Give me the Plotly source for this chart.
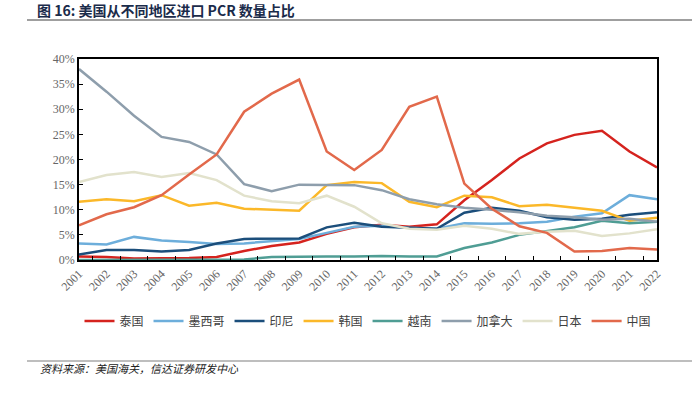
import plotly.graph_objects as go

years = ["2001", "2002", "2003", "2004", "2005", "2006", "2007", "2008", "2009", "2010", "2011",
         "2012", "2013", "2014", "2015", "2016", "2017", "2018", "2019", "2020", "2021", "2022"]

thailand = [0.7, 0.6, 0.3, 0.3, 0.4, 0.6, 1.8, 2.8, 3.5, 5.2, 6.5, 7.0, 6.6, 7.1, 11.9, 15.9, 20.2, 23.2, 24.9, 25.7, 21.6, 18.4]
mexico = [3.3, 3.1, 4.6, 3.9, 3.6, 3.2, 3.3, 3.8, 4.2, 5.4, 6.6, 6.8, 6.4, 6.2, 7.3, 7.2, 7.3, 7.6, 8.6, 9.3, 12.9, 12.1]
indonesia = [1.1, 2.0, 2.0, 1.7, 2.0, 3.3, 4.2, 4.2, 4.3, 6.5, 7.4, 6.6, 6.4, 6.2, 9.4, 10.4, 9.8, 8.5, 8.0, 8.2, 9.0, 9.5]
korea = [11.6, 12.1, 11.7, 12.9, 10.8, 11.4, 10.2, 10.0, 9.8, 14.9, 15.5, 15.3, 11.6, 10.5, 12.8, 12.5, 10.7, 11.0, 10.4, 9.8, 7.8, 8.4]
vietnam = [0.0, 0.0, 0.0, 0.0, 0.0, 0.0, 0.1, 0.6, 0.7, 0.7, 0.7, 0.8, 0.7, 0.7, 2.4, 3.5, 5.0, 5.8, 6.5, 7.8, 7.3, 7.6]
canada = [38.0, 33.5, 28.7, 24.5, 23.5, 21.0, 15.1, 13.7, 15.0, 15.0, 14.9, 13.9, 12.1, 11.1, 10.4, 10.0, 9.5, 8.8, 8.5, 8.0, 8.2, 7.6]
japan = [15.5, 16.9, 17.5, 16.5, 17.3, 15.9, 12.8, 11.7, 11.3, 12.8, 10.6, 7.3, 6.2, 6.0, 6.8, 6.2, 5.2, 5.6, 5.8, 4.8, 5.3, 6.1]
china = [6.9, 9.1, 10.5, 12.9, 17.0, 21.0, 29.5, 33.1, 35.9, 21.6, 17.9, 21.9, 30.5, 32.5, 15.2, 10.2, 6.7, 5.4, 1.7, 1.8, 2.4, 2.1]

series_names = ["泰国", "墨西哥", "印尼", "韩国", "越南", "加拿大", "日本", "中国"]
series_values = [thailand, mexico, indonesia, korea, vietnam, canada, japan, china]
series_colors = ["#D5231E", "#6DAEDB", "#1B4E7B", "#FBB829", "#4F9D94", "#8E9EAC", "#E2E2CC", "#E2694B"]

y_tick_vals = [0, 5, 10, 15, 20, 25, 30, 35, 40]
y_tick_text = ["0%", "5%", "10%", "15%", "20%", "25%", "30%", "35%", "40%"]

title_text = "图 16: 美国从不同地区进口 PCR 数量占比"
source_text = "资料来源：美国海关，信达证券研发中心"

fig = go.Figure()
for name, vals, col in zip(series_names, series_values, series_colors):
    fig.add_trace(go.Scatter(x=years, y=vals, name=name, mode="lines",
                             line=dict(color=col, width=2.5)))

# plot area: x 79..657, y 59..260
L, R, T, B = 79, 657, 59, 260
W, H = 699, 395
pw, ph = R - L, B - T

def px_x(x):
    return (x - L) / pw

def px_y(y):
    return (B - y) / ph

tick_font = dict(family="Liberation Serif, serif", size=12, color="#666666")

fig.update_layout(
    width=W, height=H,
    margin=dict(l=L, r=W - R, t=T, b=H - B, autoexpand=False),
    paper_bgcolor="white", plot_bgcolor="white",
    showlegend=True,
    legend=dict(orientation="h", x=(368 / W), xanchor="center", xref="container",
                y=1 - 321 / H, yanchor="middle", yref="container",
                font=dict(family="Noto Sans CJK SC", size=12, color="#404040"),
                itemwidth=30, tracegroupgap=0, bgcolor="rgba(0,0,0,0)"),
    xaxis=dict(type="category", tickangle=-45, tickfont=tick_font, automargin=False,
               showline=True, linecolor="#000000", linewidth=2, mirror=True,
               ticks="inside", ticklen=4, tickcolor="#000000", tickson="boundaries",
               showgrid=False, zeroline=False, fixedrange=True),
    yaxis=dict(range=[0, 40], tickvals=y_tick_vals, ticktext=y_tick_text, tickfont=tick_font,
               automargin=False,
               showline=True, linecolor="#000000", linewidth=1.5, mirror=True,
               ticks="inside", ticklen=4, tickcolor="#000000",
               showgrid=False, zeroline=False, fixedrange=True),
)

# title
fig.add_annotation(text="<b>" + title_text + "</b>", xref="paper", yref="paper",
                   x=px_x(35), y=px_y(10), xanchor="left", yanchor="middle", showarrow=False,
                   font=dict(family="Noto Sans CJK SC", size=14, color="#1A2B4A"))
fig.add_shape(type="line", xref="paper", yref="paper", x0=px_x(27), x1=px_x(692),
              y0=px_y(20), y1=px_y(20), line=dict(color="#7F7F7F", width=1.5))

# source
fig.add_shape(type="line", xref="paper", yref="paper", x0=px_x(27), x1=px_x(692),
              y0=px_y(361), y1=px_y(361), line=dict(color="#7F7F7F", width=1.2))
fig.add_annotation(text="<i>" + source_text + "</i>", xref="paper", yref="paper",
                   x=px_x(38), y=px_y(368), xanchor="left", yanchor="middle", showarrow=False,
                   font=dict(family="Noto Sans CJK SC", size=11, color="#222222"))

fig.write_html("out.html", config={"displayModeBar": False},
               post_script="document.body.style.margin='0';")
